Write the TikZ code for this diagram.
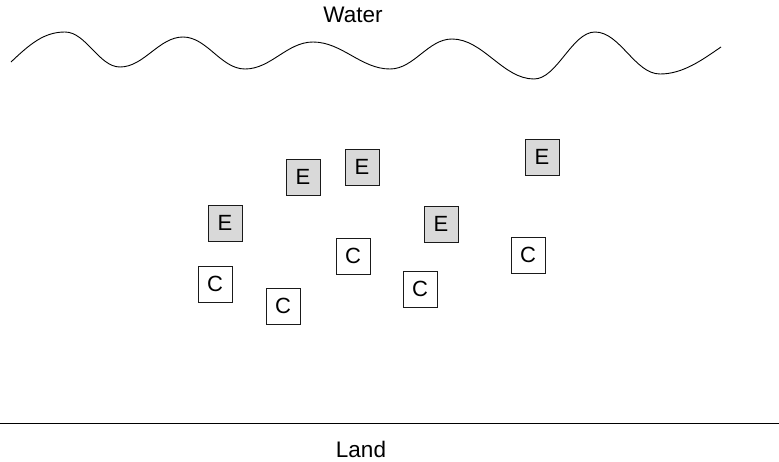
\documentclass[tikz,border=0pt]{standalone}
\usepackage{fontspec}
\setmainfont{Liberation Sans}
\definecolor{egray}{HTML}{D9D9D9}
\definecolor{lineblk}{HTML}{1A1A1A}
\begin{document}
\begin{tikzpicture}[x=1pt,y=-1pt,
  lbl/.style={font=\fontsize{22.5}{26}\selectfont, inner sep=0pt},
  cbox/.style={draw=lineblk, line width=0.9pt, minimum width=34pt, minimum height=36pt, inner sep=0pt, font=\fontsize{22}{26}\selectfont},
  ebox/.style={cbox, fill=egray}]
\useasboundingbox (0,0) rectangle (779,461);
% water surface
\node[lbl] (water) at (353,15) {Water};
\draw[line width=0.9pt, line join=round] (11,62) .. controls (30,44) and (44,32) .. (65,32)
  .. controls (86,32) and (99,67) .. (120,67)
  .. controls (144,67) and (159,37) .. (183,37)
  .. controls (207,37) and (221,69) .. (245,69)
  .. controls (271,69) and (287,42) .. (313,42)
  .. controls (342,42) and (361,69) .. (390,69)
  .. controls (414,69) and (428,39) .. (452,39)
  .. controls (483,39) and (503,79) .. (534,79)
  .. controls (557,79) and (572,32) .. (595,32)
  .. controls (620,32) and (635,74) .. (660,74)
  .. controls (683,74) and (702,60) .. (721,47);
% land
\draw[line width=0.9pt] (0,423) -- (779,423);
\node[lbl] (land) at (361,449) {Land};
% E boxes
\node[ebox] (e1) at (303,177) {E};
\node[ebox] (e2) at (362,167) {E};
\node[ebox] (e3) at (542,157) {E};
\node[ebox] (e4) at (225,223) {E};
\node[ebox] (e5) at (441,224) {E};
% C boxes
\node[cbox] (c1) at (215,284) {C};
\node[cbox] (c2) at (283,306) {C};
\node[cbox] (c3) at (353,256) {C};
\node[cbox] (c4) at (420,289) {C};
\node[cbox] (c5) at (528,255) {C};
\end{tikzpicture}
\end{document}
